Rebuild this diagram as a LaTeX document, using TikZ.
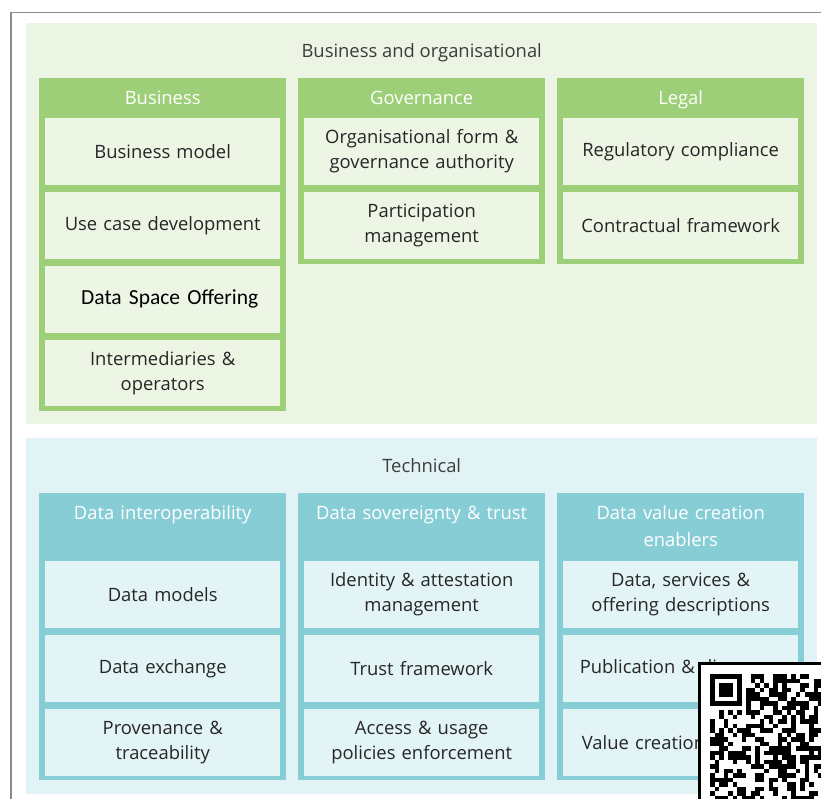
\documentclass[tikz,border=0pt]{standalone}
\usepackage{fontspec}
\setmainfont{Open Sans}
\newfontfamily\offerfont{Carlito}
\usetikzlibrary{positioning}
\definecolor{frameGrey}{HTML}{8C8C8C}
\definecolor{bizPanel}{HTML}{ECF5E4}
\definecolor{bizCol}{HTML}{9DCF78}
\definecolor{bizItem}{HTML}{EDF6E5}
\definecolor{techPanel}{HTML}{E2F3F6}
\definecolor{techCol}{HTML}{87CDD6}
\definecolor{techItem}{HTML}{E3F4F7}
\definecolor{txtGrey}{HTML}{262626}
\definecolor{titleGrey}{HTML}{3C3C3C}
\tikzset{
    %Define style for the two big groups
    panel/.style={
           rectangle,
           anchor=north west,
           inner sep=0pt,
           minimum width=791pt},
    grouptitle/.style={
           anchor=north,
           inner sep=0pt,
           font=\fontsize{18.4}{27}\selectfont,
           text=titleGrey},
    %Define style for the columns
    column/.style={
           rectangle,
           anchor=north west,
           inner sep=0pt,
           minimum width=247pt},
    colhead/.style={
           anchor=north,
           inner sep=0pt,
           text width=240pt,
           align=center,
           font=\fontsize{18.4}{27}\selectfont,
           text=white},
    %Define style for boxes
    item/.style={
           rectangle,
           inner sep=0pt,
           minimum width=235pt,
           minimum height=66.5pt,
           text width=232pt,
           align=center,
           font=\fontsize{18.4}{25}\selectfont,
           text=txtGrey},
    offer/.style={
           item,
           font=\offerfont\fontsize{21.5}{25}\selectfont,
           text=black}
}
\begin{document}
\begin{tikzpicture}[x=1pt,y=-1pt,node distance=7pt,
  bitem/.style={item,fill=bizItem},titem/.style={item,fill=techItem}]
\useasboundingbox (0,0) rectangle (821,798);
\clip (0,0) rectangle (821,798);
\draw[frameGrey, line width=1.5pt] (11,12.5) rectangle (840,820);

% Business and organisational
\node[panel, fill=bizPanel, minimum height=401pt] (bizPanel) at (26,23) {};
\node[grouptitle, below=20pt of bizPanel.north] (bizTitle) {Business and organisational};

\node[column, fill=bizCol, minimum height=333pt] (busCol) at (39,78) {};
\node[column, fill=bizCol, minimum height=186pt] (govCol) at (298,78) {};
\node[column, fill=bizCol, minimum height=186pt] (legCol) at (557,78) {};
\node[colhead, below=12.5pt of busCol.north] (busHead) {Business};
\node[colhead, below=12.5pt of govCol.north] (govHead) {Governance};
\node[colhead, below=12.5pt of legCol.north] (legHead) {Legal};

\node[bitem, below=40pt of busCol.north] (bm) {Business model};
\node[bitem, below=of bm] (ucd) {Use case development};
\node[bitem, offer, below=of ucd] (dso) {\hspace*{14pt}Data Space Offering};
\node[bitem, below=of dso] (imo) {Intermediaries \&\\operators};

\node[bitem, below=40pt of govCol.north] (ofg) {Organisational form \&\\governance authority};
\node[bitem, below=of ofg] (pm) {Participation\\management};

\node[bitem, below=40pt of legCol.north] (rc) {Regulatory compliance};
\node[bitem, below=of rc] (cf) {Contractual framework};

% Technical
\node[panel, fill=techPanel, minimum height=356pt] (techPanel) at (26,438) {};
\node[grouptitle, below=20pt of techPanel.north] (techTitle) {Technical};

\node[column, fill=techCol, minimum height=287pt] (intCol) at (39,493) {};
\node[column, fill=techCol, minimum height=287pt] (sovCol) at (298,493) {};
\node[column, fill=techCol, minimum height=287pt] (valCol) at (557,493) {};
\node[colhead, below=12.5pt of intCol.north] (intHead) {Data interoperability};
\node[colhead, below=12.5pt of sovCol.north] (sovHead) {Data sovereignty \& trust};
\node[colhead, below=12.5pt of valCol.north] (valHead) {Data value creation\\enablers};

\node[titem, below=68pt of intCol.north] (dm) {Data models};
\node[titem, below=of dm] (dx) {Data exchange};
\node[titem, below=of dx] (pt) {Provenance \&\\traceability};

\node[titem, below=68pt of sovCol.north] (iam) {Identity \& attestation\\management};
\node[titem, below=of iam] (tf) {Trust framework};
\node[titem, below=of tf] (aup) {Access \& usage\\policies enforcement};

\node[titem, below=68pt of valCol.north] (dsd) {Data, services \&\\offering descriptions};
\node[titem, below=of dsd] (pd) {Publication \& discovery};
\node[titem, below=of pd] (vcs) {Value creation services};

% QR code laid over the corner
\draw[fill=white, line width=3pt] (699.5,663.5) rectangle (840,820);
\pgfmathsetseed{4711}
\foreach \r in {0,...,27}
  \foreach \c in {0,...,24}{
    \pgfmathrandominteger{\bit}{0}{1}
    \ifnum\r<8 \ifnum\c<8 \def\bit{0}\fi\fi
    \ifnum\bit=1
      \fill (710+4.5*\c,674+4.5*\r) rectangle ++(4.5,4.5);
    \fi
  }
\fill (710,674) rectangle ++(31.5,31.5);
\fill[white] (714.5,678.5) rectangle ++(22.5,22.5);
\fill (719,683) rectangle ++(13.5,13.5);
\end{tikzpicture}
\end{document}
